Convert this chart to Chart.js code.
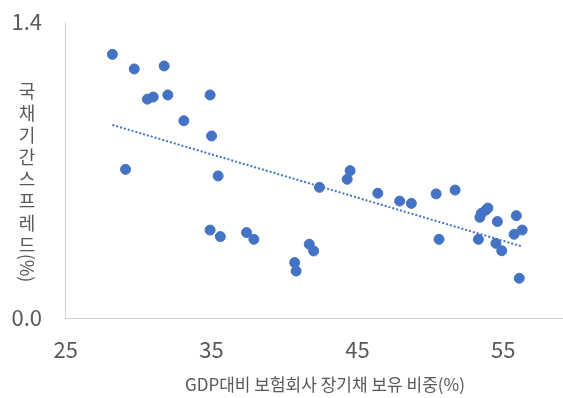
<!DOCTYPE html>
<html>
<head>
<meta charset="utf-8">
<script src="https://cdn.jsdelivr.net/npm/chart.js@4"></script>
<style>
  html, body { margin: 0; padding: 0; background: #fff; }
  #wrap { width: 563px; height: 398px; }
</style>
</head>
<body>
<div id="wrap"><canvas id="spreadChart" width="563" height="398"></canvas></div>
<script>
// GDP대비 보험회사 장기채 보유 비중(%) vs 국채기간스프레드(%)
const xValues = [28.2, 29.7, 31.75, 30.6, 31.0, 32.0, 34.9, 33.1, 35.0, 29.1,
                 35.45, 34.9, 35.6, 37.4, 37.9, 40.7, 40.8, 41.7, 42.0, 42.4,
                 44.5, 44.3, 46.4, 47.9, 48.7, 50.4, 51.7, 50.6, 53.3, 53.4,
                 53.5, 53.8, 53.95, 54.6, 54.5, 54.9, 55.9, 55.75, 56.3, 56.1];
const yValues = [1.247, 1.178, 1.192, 1.035, 1.045, 1.055, 1.055, 0.933, 0.861, 0.703,
                 0.672, 0.416, 0.385, 0.404, 0.372, 0.262, 0.222, 0.349, 0.317, 0.618,
                 0.697, 0.656, 0.590, 0.553, 0.542, 0.587, 0.605, 0.372, 0.372, 0.476,
                 0.495, 0.510, 0.520, 0.456, 0.353, 0.318, 0.484, 0.396, 0.416, 0.188];
const xTicks = [25, 35, 45, 55];
const yTicks = [0, 1.4];
const xTitle = 'GDP대비 보험회사 장기채 보유 비중(%)';
const yTitleChars = ['국', '채', '기', '간', '스', '프', '레', '드'];
const yTitleTail = '(%)';

const points = xValues.map((x, i) => ({ x: x, y: yValues[i] }));

// linear trendline (least squares), like the Excel one
const n = xValues.length;
const mx = xValues.reduce((a, b) => a + b, 0) / n;
const my = yValues.reduce((a, b) => a + b, 0) / n;
let sxy = 0, sxx = 0;
for (let i = 0; i < n; i++) {
    sxy += (xValues[i] - mx) * (yValues[i] - my);
    sxx += (xValues[i] - mx) * (xValues[i] - mx);
}
const slope = sxy / sxx;
const icpt = my - slope * mx;
const xMin = Math.min(...xValues), xMax = Math.max(...xValues);
const trend = [
    { x: xMin, y: icpt + slope * xMin },
    { x: xMax, y: icpt + slope * xMax },
];

const textColor = '#595959';
const krFont = '"Noto Sans CJK KR", "Noto Sans", sans-serif';

const titlePlugin = {
    id: 'axisTitles',
    afterDraw(chart) {
        const ctx = chart.ctx;
        ctx.save();
        ctx.fillStyle = textColor;
        ctx.textAlign = 'center';
        ctx.textBaseline = 'middle';
        ctx.font = '17px ' + krFont;
        ctx.fillText(xTitle, 325, 385);

        ctx.font = '18px ' + krFont;
        yTitleChars.forEach((c, i) => {
            ctx.fillText(c, 27, 91 + i * 22);
        });
        ctx.translate(27, 268);
        ctx.rotate(Math.PI / 2);
        ctx.fillText(yTitleTail, 0, 0);
        ctx.restore();
    }
};

const ctx = document.getElementById('spreadChart').getContext('2d');
new Chart(ctx, {
    type: 'scatter',
    data: {
        datasets: [
            {
                label: 'data',
                data: points,
                backgroundColor: '#4472C4',
                borderColor: '#4472C4',
                pointRadius: 5,
                pointHoverRadius: 5,
            },
            {
                label: 'trend',
                type: 'line',
                data: trend,
                borderColor: '#4472C4',
                borderWidth: 2,
                borderDash: [2, 2],
                pointRadius: 0,
                fill: false,
            },
        ],
    },
    options: {
        responsive: false,
        animation: false,
        layout: {
            autoPadding: false,
            padding: { top: 22, right: 0, left: 0, bottom: 0 },
        },
        plugins: {
            legend: { display: false },
            tooltip: { enabled: false },
        },
        scales: {
            x: {
                type: 'linear',
                min: 24.95,
                max: 59.1,
                afterBuildTicks: (scale) => {
                    scale.ticks = xTicks.map(v => ({ value: v }));
                },
                afterFit: (scale) => {
                    scale.height = 80;
                    scale.paddingLeft = 0;
                    scale.paddingRight = 0;
                },
                grid: { display: false, drawTicks: false },
                border: { color: '#d0d0d0', width: 1 },
                ticks: {
                    padding: 18,
                    color: textColor,
                    font: { family: krFont, size: 22 },
                    maxRotation: 0,
                },
            },
            y: {
                min: 0,
                max: 1.4,
                afterBuildTicks: (scale) => {
                    scale.ticks = yTicks.map(v => ({ value: v }));
                },
                afterFit: (scale) => {
                    scale.width = 65;
                    scale.paddingTop = 0;
                    scale.paddingBottom = 0;
                },
                grid: { display: false, drawTicks: false },
                border: { color: '#d0d0d0', width: 1 },
                ticks: {
                    padding: 23,
                    color: textColor,
                    font: { family: krFont, size: 22 },
                    callback: (v) => Number(v).toFixed(1),
                },
            },
        },
    },
    plugins: [titlePlugin],
});
</script>
</body>
</html>
